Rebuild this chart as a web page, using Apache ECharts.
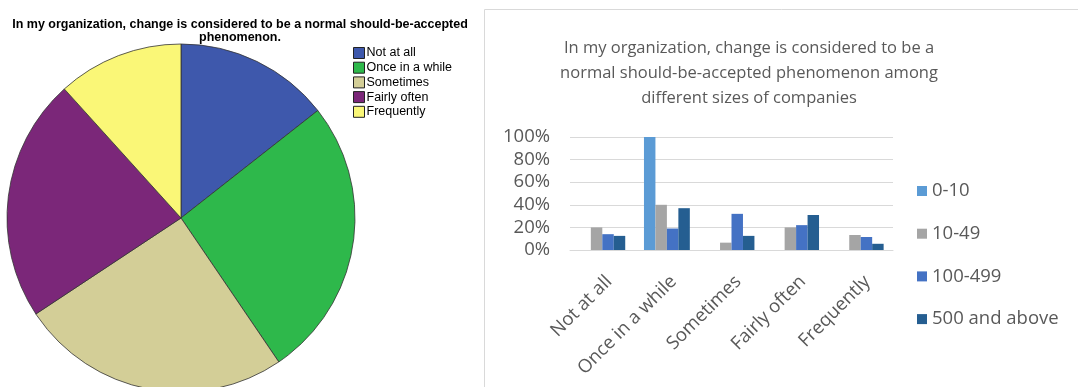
<!DOCTYPE html>
<html><head><meta charset="utf-8">
<script src="https://cdn.jsdelivr.net/npm/echarts@6/dist/echarts.min.js"></script>
<style>html,body{margin:0;padding:0;background:#fff}#c{width:1078px;height:387px}</style>
</head><body><div id="c"></div>
<script>
const pieCategories = ['Not at all', 'Once in a while', 'Sometimes', 'Fairly often', 'Frequently'];
const pieValues = [14.4, 26.1, 25.2, 22.6, 11.7];
const pieColors = ['#3E58AC', '#2EB84B', '#D3CE97', '#7B2779', '#FAF777'];

const barCategories = ['Not at all', 'Once in a while', 'Sometimes', 'Fairly often', 'Frequently'];
const seriesNames = ['0-10', '10-49', '100-499', '500 and above'];
const size0to10 = [0, 1.00, 0, 0, 0];
const size10to49 = [0.20, 0.40, 0.065, 0.20, 0.133];
const size100to499 = [0.14, 0.19, 0.32, 0.22, 0.115];
const size500plus = [0.125, 0.37, 0.125, 0.31, 0.055];
const barColors = ['#5B9BD5', '#A5A5A5', '#4472C4', '#255E91'];
const yTicks = [0, 0.2, 0.4, 0.6, 0.8, 1.0];

const chart = echarts.init(document.getElementById('c'));
const barData = [size0to10, size10to49, size100to499, size500plus];
const gray = '#595959';
const xl = "'Open Sans', sans-serif";

chart.setOption({
  animation: false,
  graphic: [{
    type: 'rect', shape: {x: 484.5, y: 9.5, width: 600, height: 400},
    style: {fill: 'none', stroke: '#D9D9D9', lineWidth: 1}, z: -10
  }],
  title: [{
    text: 'In my organization, change is considered to be a normal should-be-accepted\nphenomenon.',
    left: 240, top: 18, textAlign: 'center', padding: 0,
    textStyle: {fontFamily: 'Liberation Sans, Arial', fontWeight: 'bold', fontSize: 12.5, lineHeight: 13, color: '#000'}
  }, {
    text: 'In my organization, change is considered to be a\nnormal should-be-accepted phenomenon among\ndifferent sizes of companies',
    left: 749, top: 36, textAlign: 'center', padding: 0,
    textStyle: {fontFamily: xl, fontWeight: 'normal', fontSize: 16.5, lineHeight: 25, color: gray}
  }],
  legend: [{
    data: pieCategories, orient: 'vertical', left: 353, top: 46, padding: 0,
    itemWidth: 11, itemHeight: 11, itemGap: 0.7, icon: 'rect',
    itemStyle: {borderColor: '#222', borderWidth: 1},
    textStyle: {fontFamily: 'Liberation Sans, Arial', fontSize: 12.5, lineHeight: 14, color: '#000', padding: [0, 0, 0, -3]}
  }, {
    data: seriesNames, orient: 'vertical', left: 917, top: 181, padding: 0,
    itemWidth: 10, itemHeight: 10, itemGap: 22.7, icon: 'rect',
    textStyle: {fontFamily: xl, fontSize: 18.5, lineHeight: 20, color: gray, padding: [0, 0, 0, 0]}
  }],
  grid: {left: 570, right: 185, top: 137, bottom: 137, containLabel: false},
  xAxis: {
    type: 'category', data: barCategories,
    axisLine: {lineStyle: {color: '#D9D9D9'}}, axisTick: {show: false},
    axisLabel: {interval: 0, rotate: 45, margin: 22, verticalAlign: 'top', fontFamily: xl, fontSize: 18.5, color: gray}
  },
  yAxis: {
    type: 'value', min: 0, max: 1, interval: 0.2,
    axisLine: {show: false}, axisTick: {show: false},
    splitLine: {lineStyle: {color: '#D9D9D9'}},
    axisLabel: {margin: 20, fontFamily: xl, fontSize: 18.5, color: gray,
      formatter: v => Math.round(v * 100) + '%'}
  },
  series: [{
    type: 'pie', center: [181, 218], radius: 174, startAngle: 90, clockwise: true,
    label: {show: false}, labelLine: {show: false}, silent: true,
    itemStyle: {borderColor: '#333', borderWidth: 0.8},
    data: pieCategories.map((n, i) => ({name: n, value: pieValues[i], itemStyle: {color: pieColors[i]}}))
  }].concat(seriesNames.map((n, i) => ({
    type: 'bar', name: n, data: barData[i], barGap: '0%', barCategoryGap: '29%',
    itemStyle: {color: barColors[i]}
  })))
});
</script></body></html>
